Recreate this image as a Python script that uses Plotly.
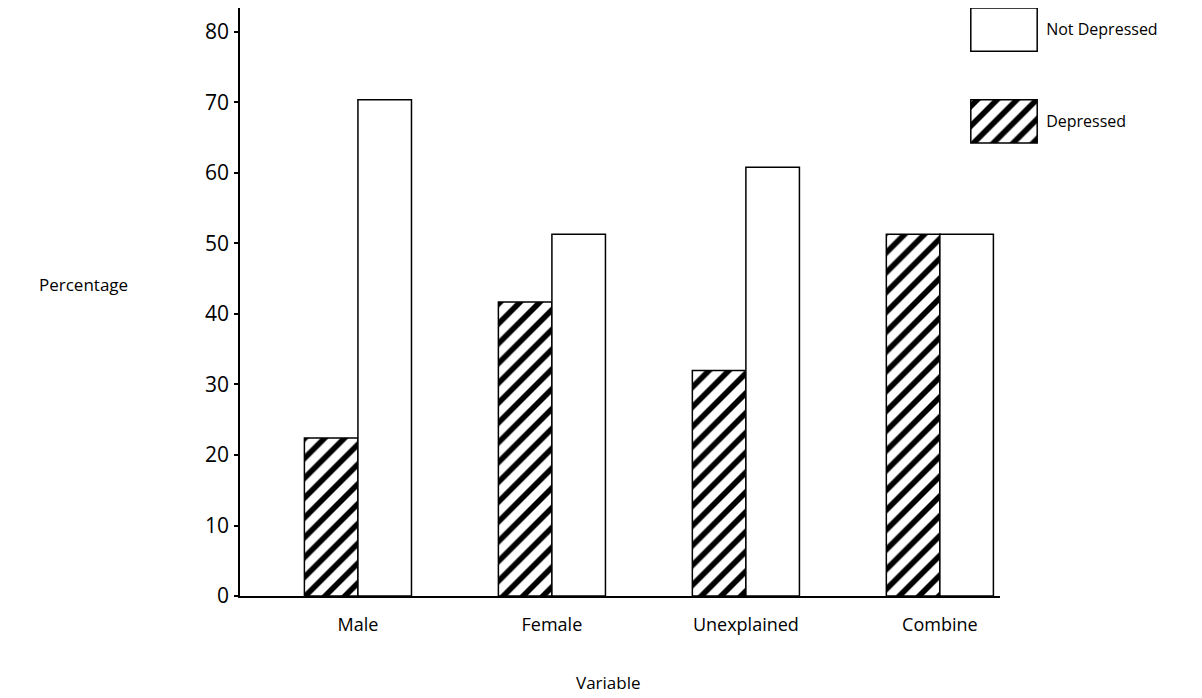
import plotly.graph_objects as go

categories = ["Male", "Female", "Unexplained", "Combine"]
depressed = [22.4, 41.7, 32.0, 51.3]
not_depressed = [70.4, 51.3, 60.8, 51.3]
y_ticks = [0, 10, 20, 30, 40, 50, 60, 70, 80]
legend_labels = ["Depressed", "Not Depressed"]
legend_fill = [1, 1]

FONT = "Open Sans"
hatch = dict(shape="/", fgcolor="black", bgcolor="white", size=14,
             solidity=0.4, fgopacity=1)

# the page body adds an 8px offset; work in screen pixels and compensate
OFF = 8
W, H = 1202 - OFF, 698 - OFF
L, R, T, B = 240 - OFF, 1202 - 1160, 0, 698 - 596
PW, PH = W - L - R, H - T - B


def px(xs):
    return (xs - 240) / PW


def py(ys):
    return (596 - ys) / PH


fig = go.Figure()
fig.add_trace(go.Bar(
    x=categories, y=depressed, name="Depressed",
    marker=dict(color="white", line=dict(color="black", width=1.5), pattern=hatch),
    showlegend=False, xaxis="x", yaxis="y"))
fig.add_trace(go.Bar(
    x=categories, y=not_depressed, name="Not Depressed",
    marker=dict(color="white", line=dict(color="black", width=1.5)),
    showlegend=False, xaxis="x", yaxis="y"))

# legend keys
fig.add_trace(go.Bar(
    y=[legend_labels[0]], x=[legend_fill[0]], orientation="h", width=0.47,
    marker=dict(color="white", line=dict(color="black", width=1.5), pattern=hatch),
    showlegend=False, xaxis="x2", yaxis="y2"))
fig.add_trace(go.Bar(
    y=[legend_labels[1]], x=[legend_fill[1]], orientation="h", width=0.47,
    marker=dict(color="white", line=dict(color="black", width=1.5)),
    showlegend=False, xaxis="x2", yaxis="y2"))

fig.update_layout(
    width=W, height=H,
    margin=dict(l=L, r=R, t=T, b=B, pad=0),
    paper_bgcolor="white", plot_bgcolor="white",
    font=dict(family=FONT, color="black", size=16),
    barmode="group", bargap=0.448, bargroupgap=0,
    xaxis=dict(domain=[0, px(1000)], range=[-0.608, 3.31], showline=True,
               linecolor="black", linewidth=1.5, showgrid=False, zeroline=False,
               ticks="outside", ticklen=0, ticklabelstandoff=12,
               tickfont=dict(size=18, family=FONT), anchor="y"),
    yaxis=dict(domain=[0, 1], range=[0, 83.4], tickvals=y_ticks,
               showline=True, linecolor="black", linewidth=1.5, showgrid=False,
               zeroline=False, ticks="outside", ticklen=4, tickwidth=1.5,
               tickcolor="black", ticklabelstandoff=1,
               tickfont=dict(size=21, family=FONT), anchor="x"),
    xaxis2=dict(domain=[px(970), px(1038)], range=[-0.012, 1.012], visible=False,
                anchor="y2", fixedrange=True),
    yaxis2=dict(domain=[py(144), 1.0], range=[-0.245, 1.234], side="right",
                anchor="x2", showline=False, showgrid=False, zeroline=False,
                ticks="outside", ticklen=0, ticklabelstandoff=4,
                tickfont=dict(size=16, family=FONT), fixedrange=True),
    annotations=[
        dict(text="Percentage", x=px(83), y=py(284), xref="paper", yref="paper",
             xanchor="center", yanchor="middle",
             showarrow=False, font=dict(size=17, family=FONT)),
        dict(text="Variable", x=px(608), y=py(682), xref="paper", yref="paper",
             xanchor="center", yanchor="middle",
             showarrow=False, font=dict(size=17, family=FONT)),
    ],
)

fig.write_html("out.html")
